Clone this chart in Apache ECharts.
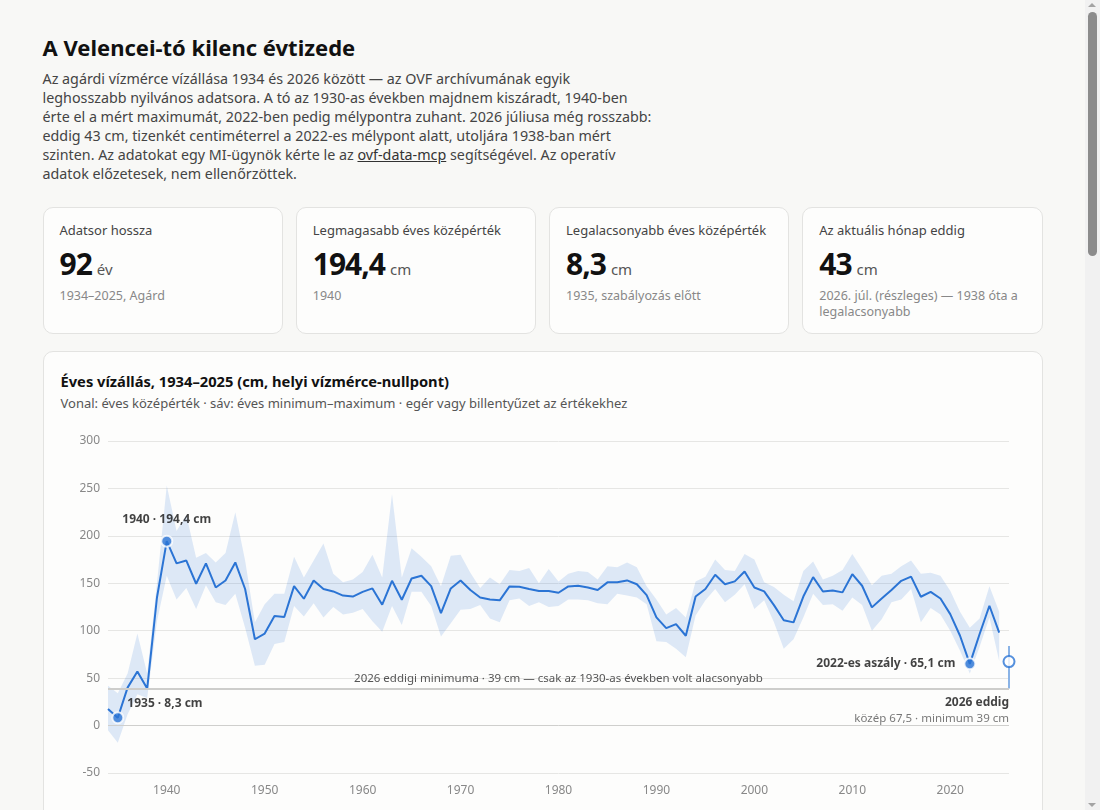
<!DOCTYPE html>
<html lang="hu">
<head>
<meta charset="utf-8">
<title>A Velencei-tó kilenc évtizede</title>
<script src="https://cdn.jsdelivr.net/npm/echarts@6/dist/echarts.min.js"></script>
<style>
  html, body { margin: 0; padding: 0; height: 100%; overflow: hidden; }
  body { background: #f8f8f6; font-family: "Noto Sans", "Open Sans", sans-serif; color: #1a1a1a; }
  .page { position: absolute; left: 0; top: 0; width: 1085px; min-height: 2620px; }
  .sb { position: absolute; left: 1085px; top: 0; width: 15px; height: 810px; background: #f1f1f1; }
  .sb .thumb { position: absolute; left: 3px; top: 12px; width: 9px; height: 244px; background: #8c8c8c; border-radius: 5px; }
  .sb .up, .sb .dn { position: absolute; left: 3px; width: 0; height: 0; border-left: 4.5px solid transparent; border-right: 4.5px solid transparent; }
  .sb .up { top: 3px; border-bottom: 4px solid #a3a3a3; }
  .sb .dn { bottom: 3px; border-top: 4px solid #a3a3a3; }
  .wrap { width: 1000px; margin: 0 auto; padding-top: 32px; }
  h1 { font-size: 22px; line-height: 30px; margin: 0; font-weight: 700; color: #111; }
  p.lead { font-size: 14.3px; line-height: 19px; color: #444; max-width: 720px; margin: 7px 0 0 0; white-space: nowrap; }
  p.lead a { color: #333; text-decoration: underline; }
  .cards { display: flex; gap: 13px; margin-top: 24px; }
  .card { flex: 1; background: #fdfdfc; border: 1px solid #e3e3e1; border-radius: 10px; padding: 13px 16px 10px 16px; height: 127px; box-sizing: border-box; }
  .card .lbl { font-size: 13px; line-height: 18px; color: #444; }
  .card .num { font-size: 30px; line-height: 38px; font-weight: 700; color: #111; margin-top: 6px; letter-spacing: -1px; }
  .card .num span { font-size: 15px; font-weight: 400; color: #555; margin-left: 5px; letter-spacing: 0; }
  .card .sub { font-size: 12.5px; line-height: 16px; color: #888; margin-top: 0px; }
  .chartcard { margin-top: 17px; background: #fdfdfc; border: 1px solid #e3e3e1; border-radius: 10px; padding: 19px 17px 20px 17px; }
  .chartcard h2 { font-size: 14.7px; line-height: 20px; margin: 0; font-weight: 700; color: #111; }
  .chartcard .st { font-size: 13px; line-height: 18px; color: #555; margin-top: 3px; }
  #chart { width: 964px; height: 400px; margin-top: 9px; }
</style>
</head>
<body>
<div class="page">
<div class="wrap">
  <h1>A Velencei-tó kilenc évtizede</h1>
  <p class="lead">Az agárdi vízmérce vízállása 1934 és 2026 között — az OVF archívumának egyik<br>leghosszabb nyilvános adatsora. A tó az 1930-as években majdnem kiszáradt, 1940-ben<br>érte el a mért maximumát, 2022-ben pedig mélypontra zuhant. 2026 júliusa még rosszabb:<br>eddig 43 cm, tizenkét centiméterrel a 2022-es mélypont alatt, utoljára 1938-ban mért<br>szinten. Az adatokat egy MI-ügynök kérte le az <a href="#">ovf-data-mcp</a> segítségével. Az operatív<br>adatok előzetesek, nem ellenőrzöttek.</p>
  <div class="cards">
    <div class="card"><div class="lbl">Adatsor hossza</div><div class="num">92<span>év</span></div><div class="sub">1934–2025, Agárd</div></div>
    <div class="card"><div class="lbl">Legmagasabb éves középérték</div><div class="num">194,4<span>cm</span></div><div class="sub">1940</div></div>
    <div class="card"><div class="lbl">Legalacsonyabb éves középérték</div><div class="num">8,3<span>cm</span></div><div class="sub">1935, szabályozás előtt</div></div>
    <div class="card"><div class="lbl">Az aktuális hónap eddig</div><div class="num">43<span>cm</span></div><div class="sub">2026. júl. (részleges) — 1938 óta a legalacsonyabb</div></div>
  </div>
  <div class="chartcard">
    <h2>Éves vízállás, 1934–2025 (cm, helyi vízmérce-nullpont)</h2>
    <div class="st">Vonal: éves középérték · sáv: éves minimum–maximum · egér vagy billentyűzet az értékekhez</div>
    <div id="chart"></div>
  </div>
</div>
</div>
<div class="sb"><div class="up"></div><div class="thumb"></div><div class="dn"></div></div>
<script>
// ---- data ----
const firstYear = 1934;
const meanValues = [
  17.5, 8.3, 40, 57, 39, 135, 194.4, 171, 174, 149.5,
  171, 145.6, 153, 172, 144, 91, 97, 115.4, 114.4, 147,
  133.7, 153, 144, 141.4, 137, 136, 141, 144.6, 127.4, 152.6,
  132.6, 155, 158, 147, 118.6, 144.6, 153, 143, 135, 133,
  132, 146.7, 146.3, 144, 141.8, 141.8, 140, 146.7, 147.4, 145.6,
  143, 151, 151, 153, 149, 137.5, 114, 102.8, 107, 94.7,
  136, 144, 159, 149, 152, 162.5, 145.6, 141.4, 127, 111,
  108.8, 136, 156.5, 141.4, 142.5, 140.4, 159.6, 147.4, 124.6, 134,
  143, 152.6, 157, 135.8, 141, 134, 117.5, 94.7, 65.1, 96.5,
  126.3, 98
];
const maxValues = [
  42, 34, 55, 97, 55, 150, 253, 205, 222, 177,
  182, 172, 182, 225, 174, 109, 128, 139, 139, 178,
  156, 174, 192, 160, 151, 154, 162, 180, 156, 244,
  156, 187, 178, 168, 147, 179, 180, 161, 145, 156,
  149, 164, 163, 166, 150, 165, 152, 160, 163, 162,
  154, 168, 167, 172, 167, 147, 133, 117, 124, 114,
  152, 157, 175, 164, 163, 181, 175, 151, 146, 138,
  131, 163, 173, 154, 158, 164, 181, 165, 148, 158,
  160, 168, 174, 160, 161, 158, 142, 120, 103, 113,
  147, 120
];
const minValues = [
  -5, -18, 12, 33, 29, 110, 158, 133, 145, 123,
  148, 130, 127, 139, 103, 63, 64, 86, 88, 126,
  115, 129, 114, 125, 117, 119, 123, 110, 99, 126,
  106, 141, 141, 126, 94, 108, 122, 123, 127, 113,
  109, 132, 134, 126, 130, 125, 126, 133, 133, 132,
  129, 128, 139, 137, 135, 128, 89, 88, 81, 72,
  116, 132, 144, 130, 138, 149, 123, 132, 109, 81,
  91, 114, 139, 127, 128, 121, 135, 127, 100, 112,
  130, 133, 144, 109, 124, 117, 100, 79, 55, 83,
  114, 68
];
const currentYear = 2026;
const currentMean = 67.5;
const currentMin = 39;
const currentMax = 84;
const highlightYears = [1935, 1940, 2022];
const yTicks = { min: -50, max: 300, step: 50 };
const refLineLabel = '2026 eddigi minimuma · 39 cm — csak az 1930-as években volt alacsonyabb';

// ---- build ----
const years = meanValues.map((_, i) => firstYear + i);
const fmt = v => String(v).replace('.', ',');
const meanData = years.map((y, i) => [y, meanValues[i]]);
const bandPoly = years.map((y, i) => [y, maxValues[i]])
  .concat(years.slice().reverse().map(y => [y, minValues[y - firstYear]]));
const blue = '#2b74d4';

const labelCfg = {
  1935: { position: 'right', distance: 3, offset: [0, -14] },
  1940: { position: 'top', distance: 9, offset: [0, 0] },
  2022: { position: 'left', distance: 8, offset: [0, 0] }
};
const highlightData = highlightYears.map(y => {
  const v = meanValues[y - firstYear];
  const cfg = labelCfg[y];
  const text = (y === 2022 ? '2022-es aszály' : String(y)) + ' · ' + fmt(v) + ' cm';
  return {
    value: [y, v],
    label: { show: true, formatter: text, position: cfg.position, distance: cfg.distance, offset: cfg.offset,
      color: '#111', fontWeight: 700, fontSize: 12, fontFamily: 'Noto Sans' }
  };
});

const chart = echarts.init(document.getElementById('chart'), null, { renderer: 'canvas' });
chart.setOption({
  animation: false,
  textStyle: { fontFamily: 'Noto Sans' },
  grid: { left: 47, right: 16, top: 20, height: 332 },
  xAxis: {
    type: 'value', min: firstYear, max: currentYear, interval: 1,
    axisLine: { show: false }, axisTick: { show: false }, splitLine: { show: false },
    axisLabel: { color: '#888', fontSize: 12, margin: 12, formatter: v => (v % 10 === 0 ? String(v) : '') }
  },
  yAxis: {
    type: 'value', min: yTicks.min, max: yTicks.max, interval: yTicks.step,
    axisLine: { show: false }, axisTick: { show: false },
    splitLine: { lineStyle: { color: '#e6e6e4', width: 1 } },
    axisLabel: { color: '#888', fontSize: 12, margin: 8 }
  },
  series: [
    { type: 'custom', silent: true, z: 1,
      data: bandPoly,
      encode: { x: 0, y: 1 },
      renderItem: function (params, api) {
        if (params.dataIndex !== 0) return null;
        const pts = bandPoly.map(p => api.coord(p));
        return { type: 'polygon', shape: { points: pts },
          style: { fill: 'rgba(43,116,212,0.15)', stroke: 'none' } };
      },
      markLine: {
        silent: true, symbol: 'none', animation: false,
        data: [
          { yAxis: 0, lineStyle: { color: '#cfcfcd', width: 1, type: 'solid' }, label: { show: false } },
          { yAxis: currentMin, lineStyle: { color: '#cdcdcb', width: 2, type: 'solid' },
            label: { show: true, position: 'insideMiddleTop', formatter: refLineLabel, color: '#555', fontSize: 11.5, distance: 4 } }
        ]
      }
    },
    { type: 'line', data: meanData, symbol: 'none', lineStyle: { color: blue, width: 2 }, z: 3 },
    { type: 'scatter', data: highlightData, symbol: 'circle', symbolSize: 11,
      itemStyle: { color: blue, borderColor: '#fff', borderWidth: 2 }, z: 5 },
    { type: 'line', data: [[currentYear, currentMin], [currentYear, currentMax]], symbol: 'none',
      lineStyle: { color: '#8ab3e6', width: 2 }, z: 4 },
    { type: 'scatter', data: [{ value: [currentYear, currentMin],
        label: { show: true, position: 'bottom', distance: 6, align: 'right',
          formatter: '{a|2026 eddig}\n{b|közép ' + fmt(currentMean) + ' · minimum ' + currentMin + ' cm}',
          rich: { a: { fontWeight: 700, fontSize: 12, color: '#111', lineHeight: 16, align: 'right' },
                  b: { fontSize: 11.5, color: '#555', lineHeight: 15, align: 'right' } } } }],
      symbolSize: 1, itemStyle: { color: 'rgba(0,0,0,0)' }, z: 4 },
    { type: 'scatter', data: [[currentYear, currentMean]], symbol: 'circle', symbolSize: 11,
      itemStyle: { color: '#fff', borderColor: blue, borderWidth: 2 }, z: 6 }
  ]
});
</script>
</body>
</html>
